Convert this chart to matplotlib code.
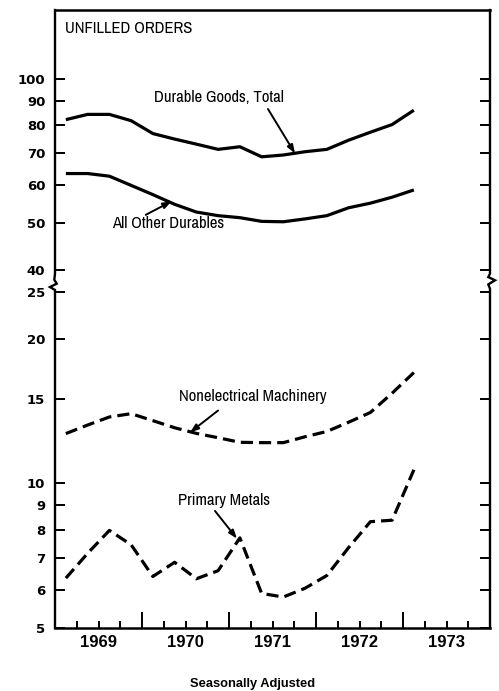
import numpy as np
import matplotlib
matplotlib.use("Agg")
import matplotlib.pyplot as plt
from matplotlib.ticker import FixedLocator, NullLocator, NullFormatter

# ---------------- data (quarterly, billions of dollars) ----------------
quarters = ["1969Q1", "1969Q2", "1969Q3", "1969Q4",
            "1970Q1", "1970Q2", "1970Q3", "1970Q4",
            "1971Q1", "1971Q2", "1971Q3", "1971Q4",
            "1972Q1", "1972Q2", "1972Q3", "1972Q4",
            "1973Q1"]
durable_total = [82.2, 84.3, 84.3, 81.8, 76.9, 74.9, 73.1, 71.3, 72.2,
                 68.8, 69.4, 70.5, 71.3, 74.5, 77.4, 80.3, 86.0]
all_other_durables = [63.5, 63.5, 62.7, 60.0, 57.4, 54.8, 52.8, 51.9, 51.4,
                      50.5, 50.4, 51.1, 51.9, 53.9, 55.1, 56.7, 58.7]
nonelectrical_machinery = [12.69, 13.22, 13.74, 13.96, 13.5, 13.05, 12.7, 12.44,
                           12.17, 12.15, 12.15, 12.5, 12.82, 13.4, 14.04, 15.4, 17.0]
primary_metals = [6.35, 7.15, 7.98, 7.45, 6.40, 6.85, 6.33, 6.58, 7.70,
                  5.90, 5.80, 6.05, 6.43, 7.35, 8.32, 8.38, 10.67]

year_labels = ["1969", "1970", "1971", "1972", "1973"]
ytick_values = [5, 6, 7, 8, 9, 10, 15, 20, 25, 40, 50, 60, 70, 80, 90, 100]
ytick_labels = ["5", "6", "7", "8", "9", "10", "15", "20", "25",
                "40", "50", "60", "70", "80", "90", "100"]


def q_to_x(q):
    year, qq = q.split("Q")
    return int(year) + (int(qq) - 1) * 0.25 + 0.125


x = np.array([q_to_x(q) for q in quarters])

# ---------------- broken log scale ----------------
LOW_TOP, HIGH_BOT = 25.0, 40.0
GAP = 0.0458  # decades shown between 25 and 40
L25, L40 = np.log10(LOW_TOP), np.log10(HIGH_BOT)


def fwd(v):
    v = np.clip(np.asarray(v, dtype=float), 1e-6, None)
    lv = np.log10(v)
    mid = L25 + (v - LOW_TOP) / (HIGH_BOT - LOW_TOP) * GAP
    high = lv - L40 + L25 + GAP
    return np.where(v <= LOW_TOP, lv, np.where(v < HIGH_BOT, mid, high))


def inv(y):
    y = np.asarray(y, dtype=float)
    low = np.power(10.0, y)
    mid = LOW_TOP + (y - L25) / GAP * (HIGH_BOT - LOW_TOP)
    high = np.power(10.0, y - L25 - GAP + L40)
    return np.where(y <= L25, low, np.where(y < L25 + GAP, mid, high))


NARROW = ["Archivo Narrow", "DejaVu Sans"]
YEARFONT = ["Liberation Sans", "DejaVu Sans"]

fig = plt.figure(figsize=(4.99, 6.91), dpi=100)
W, H = 499.0, 691.0
ax = fig.add_axes([55 / W, 1 - 628 / H, 435 / W, 618 / H])
ax.set_yscale("function", functions=(fwd, inv))
ax.set_xlim(1969, 1974)
ax.set_ylim(5, 139)

solid = dict(color="black", lw=2.3, solid_joinstyle="round", solid_capstyle="butt")
dashed = dict(color="black", lw=2.3, linestyle=(0, (3.8, 1.9)))
ax.plot(x, durable_total, **solid)
ax.plot(x, all_other_durables, **solid)
ax.plot(x, nonelectrical_machinery, **dashed)
ax.plot(x, primary_metals, **dashed)

# y axis ticks
ax.yaxis.set_major_locator(FixedLocator(ytick_values))
ax.yaxis.set_minor_locator(NullLocator())
ax.set_yticklabels(ytick_labels)
ax.tick_params(axis="y", which="major", direction="in", left=True, right=True,
               length=7.5, width=1.4, pad=7, labelsize=9.5)
for lab in ax.get_yticklabels():
    lab.set_fontweight("bold")
    lab.set_family("DejaVu Sans")

# x axis ticks
ax.xaxis.set_major_locator(FixedLocator([1970, 1971, 1972, 1973]))
ax.xaxis.set_minor_locator(FixedLocator([1969.25, 1969.5, 1969.75,
                                         1970.25, 1970.5, 1970.75,
                                         1971.25, 1971.5, 1971.75,
                                         1972.25, 1972.5, 1972.75,
                                         1973.25, 1973.5, 1973.75]))
ax.xaxis.set_major_formatter(NullFormatter())
ax.tick_params(axis="x", which="major", direction="in", length=11.5, width=1.4)
ax.tick_params(axis="x", which="minor", direction="in", length=5, width=1.4)
for i, yl in enumerate(year_labels):
    ax.text(1969.5 + i, -0.024, yl, transform=ax.get_xaxis_transform(),
            ha="center", va="center", fontsize=12, fontweight="bold",
            family=YEARFONT)

# spines with break marks
for s in ["left", "right"]:
    ax.spines[s].set_visible(False)
for s in ["top", "bottom"]:
    ax.spines[s].set_linewidth(1.8)
ytr = ax.get_yaxis_transform()
axw = 435.0
left_x = [0, 0, -5 / axw, 1.7 / axw, -0.7 / axw, 0, 0]
left_y = [5, 26.4, 28.4, 30.7, 33.4, 37.5, 139]
ax.plot(left_x, left_y, transform=ytr, color="black", lw=1.7,
        clip_on=False, solid_joinstyle="miter")
right_x = [1, 1, -1.7 / axw + 1, 5 / axw + 1, -1.7 / axw + 1, 1, 1]
right_y = [5, 27.2, 30.2, 33.0, 35.2, 37.5, 139]
ax.plot(right_x, right_y, transform=ytr, color="black", lw=1.7,
        clip_on=False, solid_joinstyle="miter")

# labels and arrows
tfont = dict(family=NARROW, fontsize=12, color="black")
ax.text(1969.115, 127.4, "UNFILLED ORDERS", ha="left", va="center", **tfont)
ax.text(1970.885, 91.4, "Durable Goods, Total", ha="center", va="center", **tfont)
ax.text(1970.299, 50.0, "All Other Durables", ha="center", va="center", **tfont)
ax.text(1971.27, 15.18, "Nonelectrical Machinery", ha="center", va="center", **tfont)
ax.text(1970.937, 9.22, "Primary Metals", ha="center", va="center", **tfont)

arrow = dict(arrowstyle="-|>,head_length=0.5,head_width=0.18", color="black",
             lw=1.4, shrinkA=0, shrinkB=0)
ax.annotate("", xy=(1971.759, 69.9), xytext=(1971.448, 86.5), arrowprops=arrow)
ax.annotate("", xy=(1970.341, 55.6), xytext=(1970.043, 52.1), arrowprops=arrow)
ax.annotate("", xy=(1970.552, 12.76), xytext=(1970.874, 14.17), arrowprops=arrow)
ax.annotate("", xy=(1971.092, 7.67), xytext=(1970.839, 8.76), arrowprops=arrow)

fig.text(253 / W, 1 - 683.5 / H, "Seasonally Adjusted", ha="center", va="center",
         family=["Liberation Sans", "DejaVu Sans"], fontsize=9.3, fontweight="bold")

fig.savefig("out.png", dpi=100)
